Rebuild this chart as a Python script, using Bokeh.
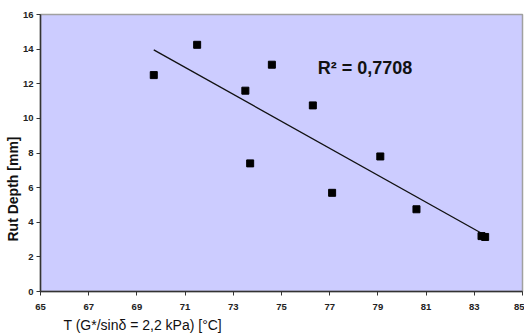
import numpy as np
from bokeh.plotting import figure
from bokeh.models import Label, FixedTicker, Range1d, Title
from bokeh.embed import file_html
from bokeh.resources import INLINE

# Data
temp_c = [69.7, 71.5, 73.5, 73.7, 74.6, 76.3, 77.1, 79.1, 80.6, 83.3, 83.45]
rut_mm = [12.5, 14.25, 11.6, 7.4, 13.1, 10.75, 5.7, 7.8, 4.75, 3.2, 3.15]
x_ticks = [65, 67, 69, 71, 73, 75, 77, 79, 81, 83, 85]
y_ticks = [0, 2, 4, 6, 8, 10, 12, 14, 16]
r2_text = "R\u00b2 = 0,7708"
x_title = "T (G*/sin\u03b4 = 2,2 kPa) [\u00b0C]"
y_title = "Rut Depth [mm]"

# linear trendline from the data
slope, intercept = np.polyfit(temp_c, rut_mm, 1)
tx = [min(temp_c), max(temp_c)]
ty = [slope * v + intercept for v in tx]

p = figure(width=524, height=335, output_backend="svg", toolbar_location=None,
           x_range=Range1d(65, 85), y_range=Range1d(0, 16),
           min_border_left=40, min_border_right=2, min_border_top=14, min_border_bottom=44)
p.background_fill_color = "#CCCCFF"
p.border_fill_color = "white"
p.outline_line_color = "#A0A0A0"
p.outline_line_width = 1.5
p.grid.visible = False

for ax in (p.xaxis[0], p.yaxis[0]):
    ax.axis_line_color = "#333333"
    ax.axis_line_width = 1.5
    ax.major_tick_line_color = "#333333"
    ax.major_tick_out = 4
    ax.major_tick_in = 0
    ax.minor_tick_line_color = None
    ax.major_label_text_font = "Liberation Sans"
    ax.major_label_text_font_style = "bold"
    ax.major_label_text_font_size = "9.5px"
    ax.major_label_text_color = "#222222"
p.xaxis.ticker = FixedTicker(ticks=x_ticks)
p.yaxis.ticker = FixedTicker(ticks=y_ticks)
p.xaxis.major_label_standoff = 8
p.yaxis.major_label_standoff = 3

p.line(tx, ty, line_color="#111111", line_width=1.3)
p.scatter(temp_c, rut_mm, marker="square", size=7, color="black")

p.add_layout(Label(x=76.5, y=12.9, text=r2_text, text_font="Liberation Sans",
                   text_font_style="bold", text_font_size="18px", text_baseline="middle",
                   text_color="#111111"))

p.add_layout(Title(text=x_title, align="left", offset=23, standoff=4,
                   text_font="Liberation Sans", text_font_style="normal",
                   text_font_size="14px", text_color="#111111"), "below")
p.add_layout(Title(text=y_title, align="left", offset=50, standoff=-2,
                   text_font="Liberation Sans", text_font_style="bold",
                   text_font_size="14px", text_color="#111111"), "left")

open("out.html", "w").write(file_html(p, INLINE))
